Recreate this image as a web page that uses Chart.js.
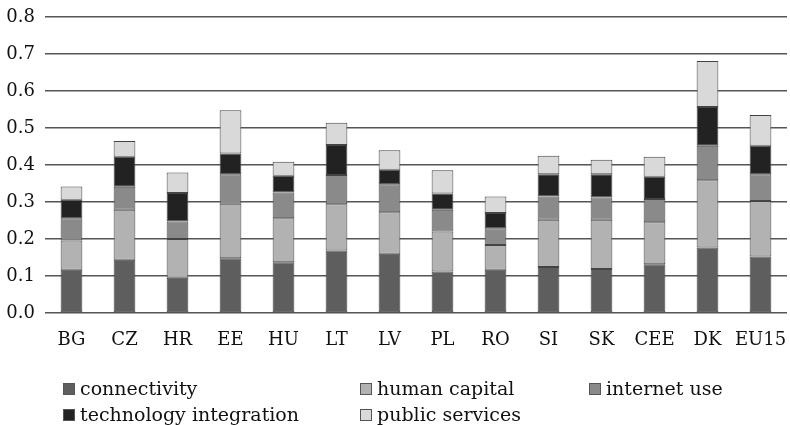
<!DOCTYPE html>
<html>
<head>
<meta charset="utf-8">
<script src="https://cdn.jsdelivr.net/npm/chart.js@4"></script>
<style>
  html, body { margin: 0; padding: 0; background: #fff; }
  #wrap { position: relative; width: 790px; height: 425px; overflow: hidden; }
  #legend { position: absolute; left: 0; top: 0; width: 790px; height: 425px; pointer-events: none;
    font-family: "DejaVu Serif", serif; font-size: 19px; color: #111; }
  .item { position: absolute; white-space: nowrap; line-height: 22px; }
  .box { display: inline-block; width: 10px; height: 10px; border: 1px solid #555; margin-right: 5px; vertical-align: baseline; }
</style>
</head>
<body>
<div id="wrap">
  <canvas id="chart" width="790" height="425"></canvas>
  <div id="legend"></div>
</div>
<script>
const countries = ['BG', 'CZ', 'HR', 'EE', 'HU', 'LT', 'LV', 'PL', 'RO', 'SI', 'SK', 'CEE', 'DK', 'EU15'];

const connectivity = [0.117, 0.144, 0.095, 0.148, 0.137, 0.169, 0.160, 0.112, 0.117, 0.124, 0.119, 0.132, 0.177, 0.153];
const humanCapital = [0.079, 0.135, 0.105, 0.147, 0.119, 0.125, 0.112, 0.108, 0.067, 0.128, 0.133, 0.113, 0.182, 0.150];
const internetUse = [0.060, 0.062, 0.047, 0.080, 0.070, 0.079, 0.076, 0.059, 0.045, 0.063, 0.060, 0.063, 0.093, 0.072];
const techIntegration = [0.050, 0.081, 0.077, 0.056, 0.045, 0.081, 0.039, 0.044, 0.041, 0.060, 0.063, 0.060, 0.105, 0.077];
const publicServices = [0.036, 0.043, 0.056, 0.117, 0.038, 0.060, 0.053, 0.063, 0.045, 0.050, 0.039, 0.054, 0.124, 0.083];

const yTicks = [0.0, 0.1, 0.2, 0.3, 0.4, 0.5, 0.6, 0.7, 0.8];

const font = "DejaVu Serif";

function series(label, data, color) {
    return {
        label: label,
        data: data,
        backgroundColor: color,
        borderColor: "#444",
        borderWidth: 1,
        borderSkipped: false,
        barPercentage: 0.41,
        categoryPercentage: 1.0,
    };
}

const datasets = [
    series("connectivity", connectivity, "#5e5e5e"),
    series("human capital", humanCapital, "#b2b2b2"),
    series("internet use", internetUse, "#8a8a8a"),
    series("technology integration", techIntegration, "#222222"),
    series("public services", publicServices, "#d9d9d9"),
];

const ctx = document.getElementById("chart").getContext("2d");

new Chart(ctx, {
    type: "bar",
    data: { labels: countries, datasets: datasets },
    options: {
        responsive: false,
        animation: false,
        layout: { padding: { top: 17, right: 3, bottom: 72, left: 0 } },
        plugins: {
            legend: { display: false },
            tooltip: { enabled: false },
        },
        scales: {
            x: {
                stacked: true,
                grid: { display: false, drawTicks: false },
                border: { display: false },
                afterFit: (scale) => {
                    scale.height = 40;
                    scale.paddingLeft = 0;
                    scale.paddingRight = 0;
                },
                ticks: {
                    color: "#111",
                    padding: 17,
                    maxRotation: 0,
                    autoSkip: false,
                    font: { family: font, size: 18 },
                },
            },
            y: {
                stacked: true,
                min: 0,
                max: 0.8,
                afterBuildTicks: (scale) => {
                    scale.ticks = yTicks.map((v) => ({ value: v }));
                },
                afterFit: (scale) => {
                    scale.width = 45;
                    scale.paddingTop = 0;
                    scale.paddingBottom = 0;
                },
                grid: { color: "#555", lineWidth: 1.5, drawTicks: false },
                border: { display: false },
                ticks: {
                    color: "#111",
                    padding: 10,
                    font: { family: font, size: 18 },
                    callback: (v) => Number(v).toFixed(1),
                },
            },
        },
    },
});

// Legend in three columns, like the original figure
const legendPos = [
    [63, 377], [360, 377], [589, 377],
    [63, 403], [360, 403],
];
const legend = document.getElementById("legend");
datasets.forEach((ds, i) => {
    const item = document.createElement("div");
    item.className = "item";
    item.style.left = legendPos[i][0] + "px";
    item.style.top = legendPos[i][1] + "px";
    item.innerHTML = '<span class="box" style="background:' + ds.backgroundColor + '"></span>' + ds.label;
    legend.appendChild(item);
});
</script>
</body>
</html>
